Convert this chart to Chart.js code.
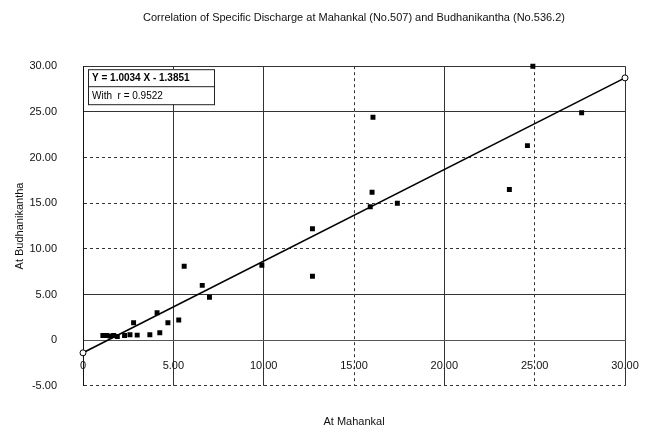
<!DOCTYPE html>
<html>
<head>
<meta charset="utf-8">
<script src="https://cdn.jsdelivr.net/npm/chart.js@4.4.0/dist/chart.umd.min.js"></script>
<style>
  html, body { margin: 0; padding: 0; background: #fff; }
</style>
</head>
<body>
<canvas id="myChart" width="650" height="435"></canvas>
<script>
/* data */
const mahankal = [1.1, 1.3, 1.5, 1.7, 1.9, 2.3, 2.6, 2.8, 3.0, 3.7, 4.1, 4.25, 4.7, 5.3, 5.6, 6.6, 7.0,
                  9.9, 12.7, 12.7, 15.9, 16.0, 16.05, 17.4, 23.6, 24.6, 24.9, 27.6];
const budhanikantha = [0.5, 0.5, 0.45, 0.5, 0.4, 0.5, 0.6, 1.9, 0.55, 0.6, 3.0, 0.8, 1.9, 2.2, 8.1, 6.0, 4.7,
                       8.2, 12.2, 7.0, 14.6, 16.2, 24.4, 15.0, 16.5, 21.3, 30.0, 24.9];
/* regression line end points (Y = 1.0034 X - 1.3851) */
const fitX = [0, 30];
const fitY = [-1.39, 28.72];

const xTicks = [0, 5, 10, 15, 20, 25, 30];
const xLabels = ['0', '5.00', '10.00', '15.00', '20.00', '25.00', '30.00'];
const yTicks = [-5, 0, 5, 10, 15, 20, 25, 30];
const yLabels = ['-5.00', '0', '5.00', '10.00', '15.00', '20.00', '25.00', '30.00'];
const equation = ['Y = 1.0034 X - 1.3851', 'With  r = 0.9522'];

const FONT = "'Liberation Sans', Arial, sans-serif";
Chart.defaults.font.family = FONT;
Chart.defaults.font.size = 11;
Chart.defaults.color = '#111';

// equation box in the top left corner of the plot
const equationBox = {
  id: 'equationBox',
  afterDatasetsDraw(chart) {
    const ctx = chart.ctx;
    const x = chart.scales.x.getPixelForValue(0) + 5;
    const y = chart.scales.y.getPixelForValue(30) + 3;
    ctx.save();
    ctx.fillStyle = '#fff';
    ctx.fillRect(x, y, 126, 35);
    ctx.strokeStyle = '#222';
    ctx.lineWidth = 1;
    ctx.strokeRect(x + 0.5, y + 0.5, 126, 35);
    ctx.beginPath();
    ctx.moveTo(x, y + 17.5);
    ctx.lineTo(x + 126, y + 17.5);
    ctx.stroke();
    ctx.fillStyle = '#000';
    ctx.font = 'bold 10px ' + FONT;
    ctx.textBaseline = 'middle';
    ctx.fillText(equation[0], x + 4, y + 9.5);
    ctx.font = '10px ' + FONT;
    ctx.fillText(equation[1], x + 4, y + 27);
    ctx.restore();
  }
};

const xSolid = [0, 5, 10, 20, 30];
const ySolid = [30, 25, 5];

let chartCtx = document.getElementById('myChart').getContext('2d');
let scatterChart = new Chart(chartCtx, {
  type: 'scatter',
  data: {
    datasets: [
      {
        label: 'Specific discharge',
        data: mahankal.map((v, i) => ({ x: v, y: budhanikantha[i] })),
        pointStyle: 'rect',
        pointRadius: 3.5,
        backgroundColor: '#000',
        borderColor: '#000',
        borderWidth: 0,
        clip: 6
      },
      {
        label: 'Fit',
        type: 'line',
        data: fitX.map((v, i) => ({ x: v, y: fitY[i] })),
        borderColor: '#000',
        borderWidth: 1.6,
        pointRadius: 3,
        pointBackgroundColor: '#fff',
        pointBorderColor: '#000',
        pointBorderWidth: 1,
        fill: false,
        clip: 6
      }
    ]
  },
  options: {
    responsive: false,
    animation: false,
    layout: { padding: { left: 9, right: 25 } },
    plugins: {
      legend: { display: false },
      tooltip: { enabled: false },
      title: {
        display: true,
        text: 'Correlation of Specific Discharge at Mahankal (No.507) and Budhanikantha (No.536.2)',
        fullSize: false,
        color: '#111',
        font: { size: 11, weight: 'normal' },
        padding: { top: 11, bottom: 42 }
      },
      subtitle: {
        display: true,
        position: 'bottom',
        text: 'At Mahankal',
        fullSize: false,
        color: '#111',
        font: { size: 11 },
        padding: { top: 30, bottom: 6 }
      }
    },
    scales: {
      x: {
        type: 'linear',
        position: { y: 0 },
        min: 0,
        max: 30,
        afterBuildTicks: s => { s.ticks = xTicks.map(v => ({ value: v })); },
        afterFit: s => { s.paddingLeft = 0; s.paddingRight = 0; },
        ticks: {
          color: '#111',
          padding: 19,
          maxRotation: 0,
          callback: (v, i) => xLabels[i]
        },
        grid: {
          color: '#333',
          lineWidth: 1,
          drawTicks: false
        },
        border: {
          color: '#555',
          dash: c => (c.tick && xSolid.includes(c.tick.value)) ? [] : [3, 3]
        }
      },
      y: {
        type: 'linear',
        position: 'left',
        min: -5,
        max: 30,
        afterBuildTicks: s => { s.ticks = yTicks.map(v => ({ value: v })); },
        afterFit: s => { s.width = 74; },
        ticks: {
          color: '#111',
          padding: 26,
          callback: (v, i) => yLabels[i]
        },
        grid: {
          color: '#333',
          lineWidth: 1,
          drawTicks: false
        },
        border: {
          color: '#111',
          dash: c => (c.tick && ySolid.includes(c.tick.value)) ? [] : [3, 3]
        },
        title: {
          display: true,
          text: 'At Budhanikantha',
          color: '#111',
          font: { size: 11 }
        }
      }
    }
  },
  plugins: [equationBox]
});
</script>
</body>
</html>
